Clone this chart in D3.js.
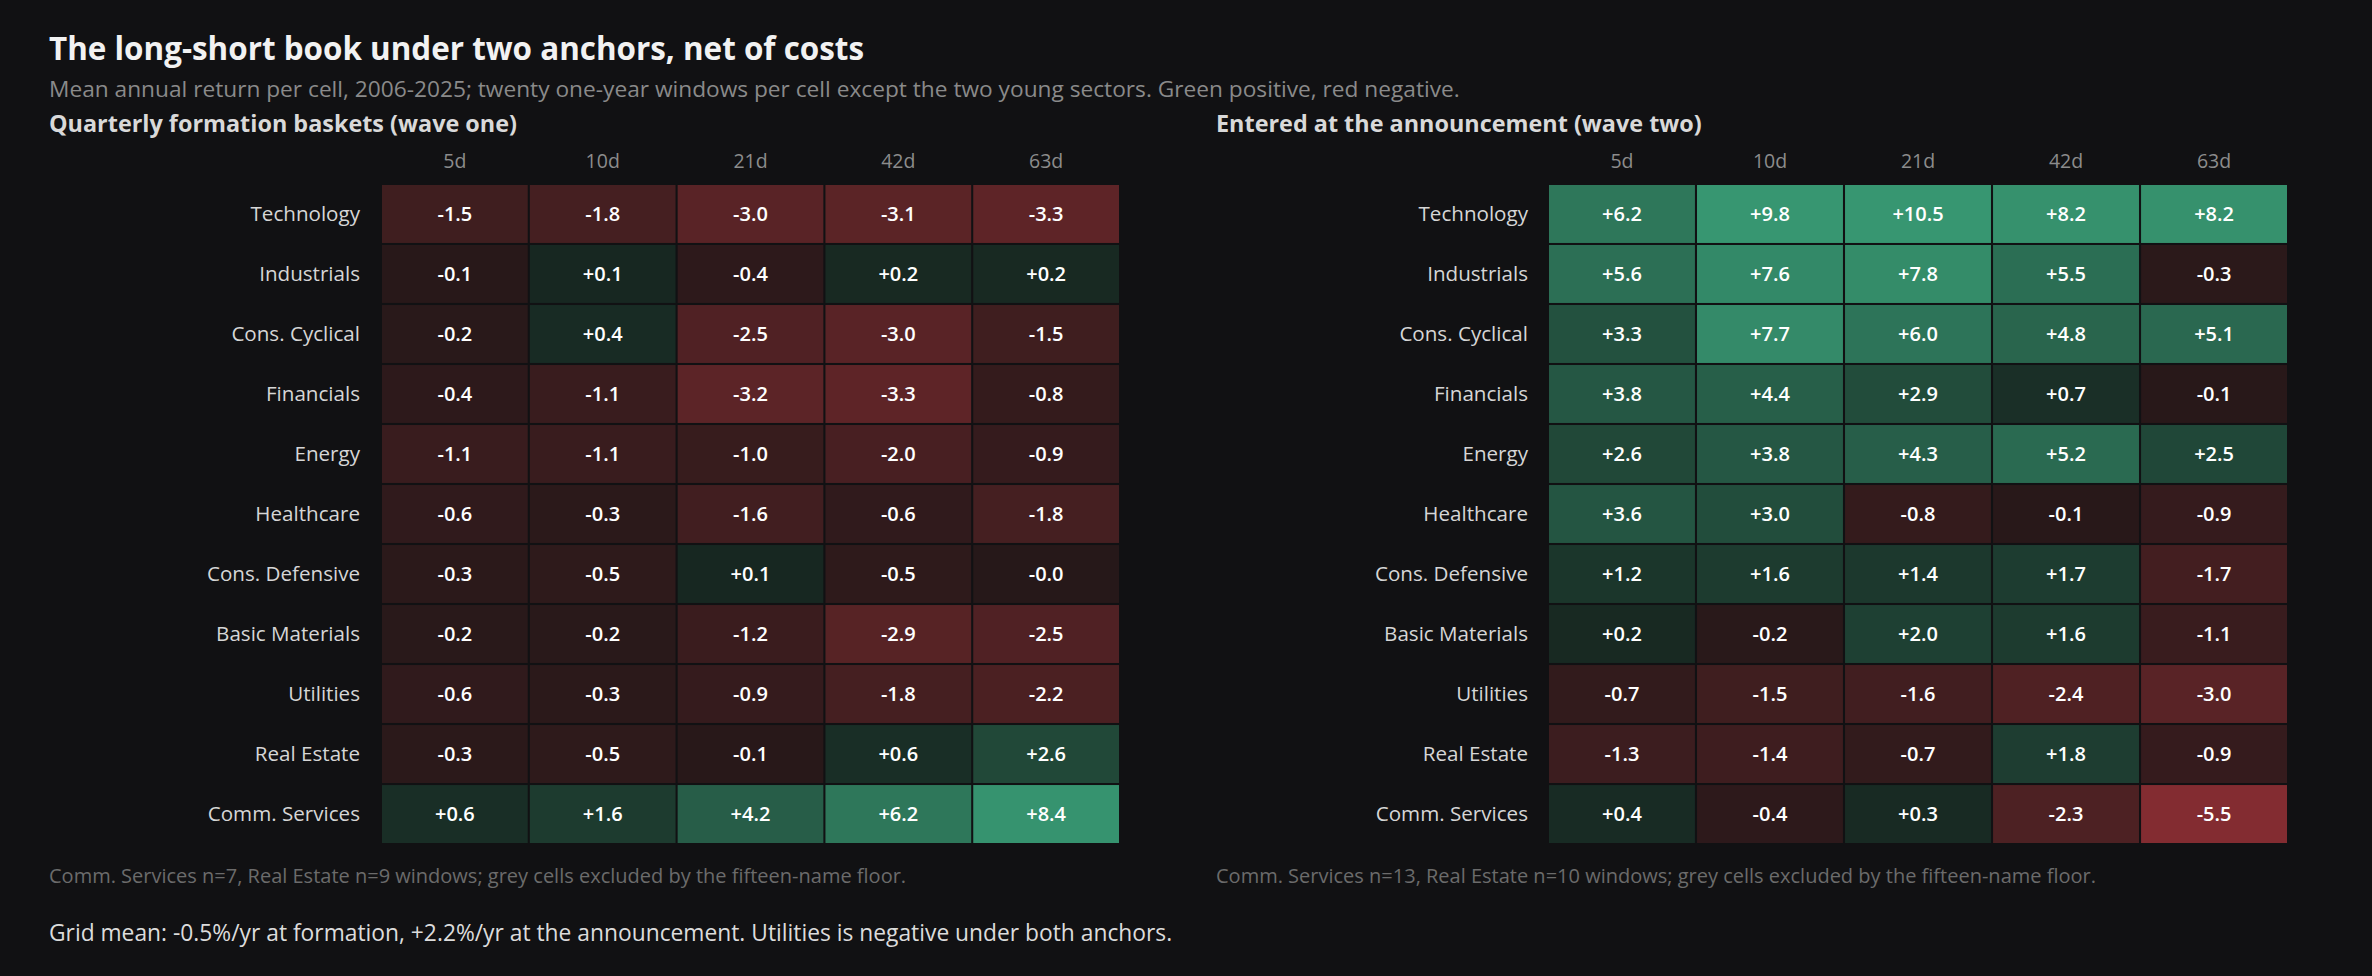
<!DOCTYPE html>
<html>
<head>
<meta charset="utf-8">
<script src="https://cdn.jsdelivr.net/npm/d3@7"></script>
<style>
  html, body { margin: 0; padding: 0; background: #111113; }
  svg { display: block; }
  text { font-family: "Open Sans", "Noto Sans", sans-serif; }
</style>
</head>
<body>
<script>
// ---------------- data ----------------
const sectors = ["Technology", "Industrials", "Cons. Cyclical", "Financials", "Energy", "Healthcare",
  "Cons. Defensive", "Basic Materials", "Utilities", "Real Estate", "Comm. Services"];
const horizons = ["5d", "10d", "21d", "42d", "63d"];

// wave one: quarterly formation baskets (rows = sectors, cols = horizons)
const waveOne = [
  [-1.5, -1.8, -3.0, -3.1, -3.3],
  [-0.1, 0.1, -0.4, 0.2, 0.2],
  [-0.2, 0.4, -2.5, -3.0, -1.5],
  [-0.4, -1.1, -3.2, -3.3, -0.8],
  [-1.1, -1.1, -1.0, -2.0, -0.9],
  [-0.6, -0.3, -1.6, -0.6, -1.8],
  [-0.3, -0.5, 0.1, -0.5, -0.02],
  [-0.2, -0.2, -1.2, -2.9, -2.5],
  [-0.6, -0.3, -0.9, -1.8, -2.2],
  [-0.3, -0.5, -0.1, 0.6, 2.6],
  [0.6, 1.6, 4.2, 6.2, 8.4]
];

// wave two: entered at the announcement
const waveTwo = [
  [6.2, 9.8, 10.5, 8.2, 8.2],
  [5.6, 7.6, 7.8, 5.5, -0.3],
  [3.3, 7.7, 6.0, 4.8, 5.1],
  [3.8, 4.4, 2.9, 0.7, -0.1],
  [2.6, 3.8, 4.3, 5.2, 2.5],
  [3.6, 3.0, -0.8, -0.1, -0.9],
  [1.2, 1.6, 1.4, 1.7, -1.7],
  [0.2, -0.2, 2.0, 1.6, -1.1],
  [-0.7, -1.5, -1.6, -2.4, -3.0],
  [-1.3, -1.4, -0.7, 1.8, -0.9],
  [0.4, -0.4, 0.3, -2.3, -5.5]
];

const titleText = "The long-short book under two anchors, net of costs";
const subtitleText = "Mean annual return per cell, 2006-2025; twenty one-year windows per cell except the two young sectors. Green positive, red negative.";
const panelTitles = ["Quarterly formation baskets (wave one)", "Entered at the announcement (wave two)"];
const panelNotes = ["Comm. Services n=7, Real Estate n=9 windows; grey cells excluded by the fifteen-name floor.",
  "Comm. Services n=13, Real Estate n=10 windows; grey cells excluded by the fifteen-name floor."];
const bottomNote = "Grid mean: -0.5%/yr at formation, +2.2%/yr at the announcement. Utilities is negative under both anchors.";

// ---------------- drawing ----------------
const W = 2372, H = 976;
const FONT = "'Open Sans', 'Noto Sans', sans-serif";
const svg = d3.select("body").append("svg").attr("width", W).attr("height", H);
svg.append("rect").attr("width", W).attr("height", H).attr("fill", "#111113");

const green = d3.scaleLinear().domain([0, 8.6]).range(["#172620", "#379671"]).clamp(true);
const red = d3.scaleLinear().domain([0, 8.6]).range(["#261819", "#b8383e"]).clamp(true);
const colorOf = v => (v < 0 || Object.is(v, -0)) ? red(-v) : green(v);
const fmt = v => ((v < 0 || Object.is(v, -0)) ? "-" : "+") + Math.abs(v).toFixed(1);

svg.append("text").attr("x", 49).attr("y", 60).text(titleText)
  .attr("fill", "#f2f2f2").attr("font-size", 31.4).attr("font-weight", 700);
svg.append("text").attr("x", 49).attr("y", 97).text(subtitleText)
  .attr("fill", "#8a8a8a").attr("font-size", 22.7);

const panels = [
  { data: waveOne, x0: 382, x1: 1119, labelX: 360, titleX: 49 },
  { data: waveTwo, x0: 1549, x1: 2287, labelX: 1528, titleX: 1216 }
];

const y = d3.scaleBand().domain(sectors).range([185, 843]).paddingInner(0.034);

panels.forEach((p, pi) => {
  const g = svg.append("g");
  const x = d3.scaleBand().domain(horizons).range([p.x0, p.x1]).paddingInner(0.014);

  g.append("text").attr("x", p.titleX).attr("y", 132).text(panelTitles[pi])
    .attr("fill", "#d9d9d9").attr("font-size", 23.4).attr("font-weight", 700);

  // column header axis
  const top = g.append("g").attr("transform", "translate(0,161)")
    .call(d3.axisTop(x).tickSize(0).tickPadding(0));
  top.select(".domain").remove();
  top.selectAll("text").attr("fill", "#8c8c8c").attr("font-size", 19.5)
    .attr("font-family", FONT).attr("dy", "0.35em");

  // row label axis
  const left = g.append("g").attr("transform", `translate(${p.labelX},0)`)
    .call(d3.axisLeft(y).tickSize(0).tickPadding(0));
  left.select(".domain").remove();
  left.selectAll("text").attr("fill", "#d6d6d6").attr("font-size", 20.6)
    .attr("font-family", FONT);

  const cells = [];
  p.data.forEach((row, ri) => row.forEach((v, ci) => cells.push({ s: sectors[ri], h: horizons[ci], v })));

  const cg = g.selectAll("g.cell").data(cells).join("g").attr("class", "cell");
  cg.append("rect")
    .attr("x", d => x(d.h)).attr("y", d => y(d.s))
    .attr("width", x.bandwidth()).attr("height", y.bandwidth())
    .attr("fill", d => colorOf(d.v));
  cg.append("text")
    .attr("x", d => x(d.h) + x.bandwidth() / 2)
    .attr("y", d => y(d.s) + y.bandwidth() / 2)
    .attr("dy", "0.35em").attr("text-anchor", "middle")
    .attr("fill", "#ffffff").attr("font-size", 20).attr("font-weight", 600)
    .text(d => fmt(d.v));

  g.append("text").attr("x", p.titleX).attr("y", 883).text(panelNotes[pi])
    .attr("fill", "#6b6b6b").attr("font-size", 20);
});

svg.append("text").attr("x", 49).attr("y", 941).text(bottomNote)
  .attr("fill", "#dcdcdc").attr("font-size", 22.8);
</script>
</body>
</html>
